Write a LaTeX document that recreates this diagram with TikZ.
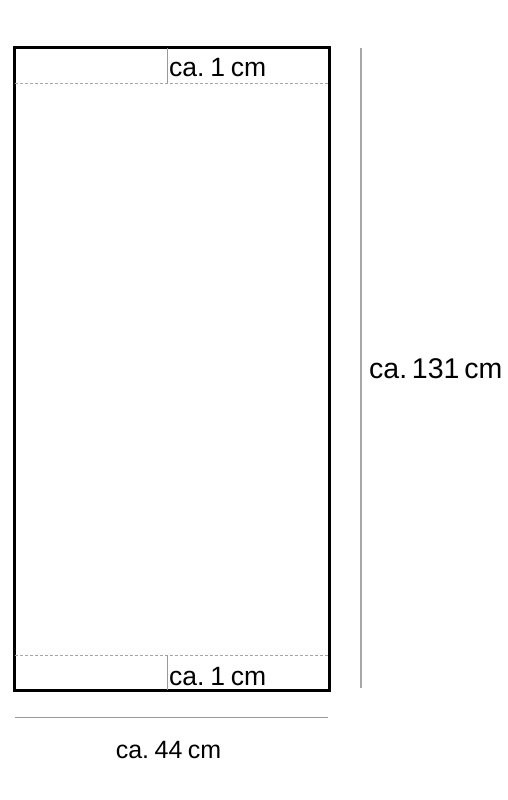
\documentclass[tikz,border=0pt]{standalone}
\usepackage{fontspec}
\setmainfont{Liberation Sans}
\usetikzlibrary{positioning}

\newcommand{\gap}{\hspace{0.22em}}

\begin{document}
\begin{tikzpicture}[x=1pt,y=-1pt,
    outline/.style={line width=3pt},
    seam/.style={gray!70,line width=0.6pt,dash pattern=on 3pt off 2pt},
    divider/.style={gray!80,line width=0.8pt},
    dimline/.style={gray!70,line width=1.2pt},
    label/.style={inner sep=0pt,font=\fontsize{26.5}{26.5}\selectfont}]
    \useasboundingbox (0,0) rectangle (508,800);
    % towel outline
    \coordinate (tl) at (14,48);
    \coordinate (br) at (329,690.5);
    \draw[outline] (tl) rectangle (br);
    % hem seams
    \coordinate (s_1l) at (15,83);
    \coordinate (s_1r) at (328,83);
    \coordinate (s_2l) at (15,655);
    \coordinate (s_2r) at (328,655);
    \draw[seam] (s_1l) -- (s_1r);
    \draw[seam] (s_2l) -- (s_2r);
    \draw[divider] (167,48) -- (167,83);
    \draw[divider] (167,655) -- (167,690);
    \node[label, anchor=base west] (hem_1) at (169,76) {ca.\gap1\gap cm};
    \node[label, anchor=base west] (hem_2) at (169,685) {ca.\gap1\gap cm};
    % dimensions
    \coordinate (h_top) at (361,48);
    \coordinate (h_bot) at (361,688);
    \coordinate (w_l) at (15,717);
    \coordinate (w_r) at (328,717);
    \draw[dimline] (h_top) -- (h_bot);
    \draw[divider] (w_l) -- (w_r);
    \node[label, anchor=base west, font=\fontsize{28.5}{28.5}\selectfont] (height) at (369,378) {ca.\,131\,cm};
    \node[label, anchor=base, font=\fontsize{25}{25}\selectfont] (width) at (168.5,758) {ca.\gap44\gap cm};
\end{tikzpicture}
\end{document}
